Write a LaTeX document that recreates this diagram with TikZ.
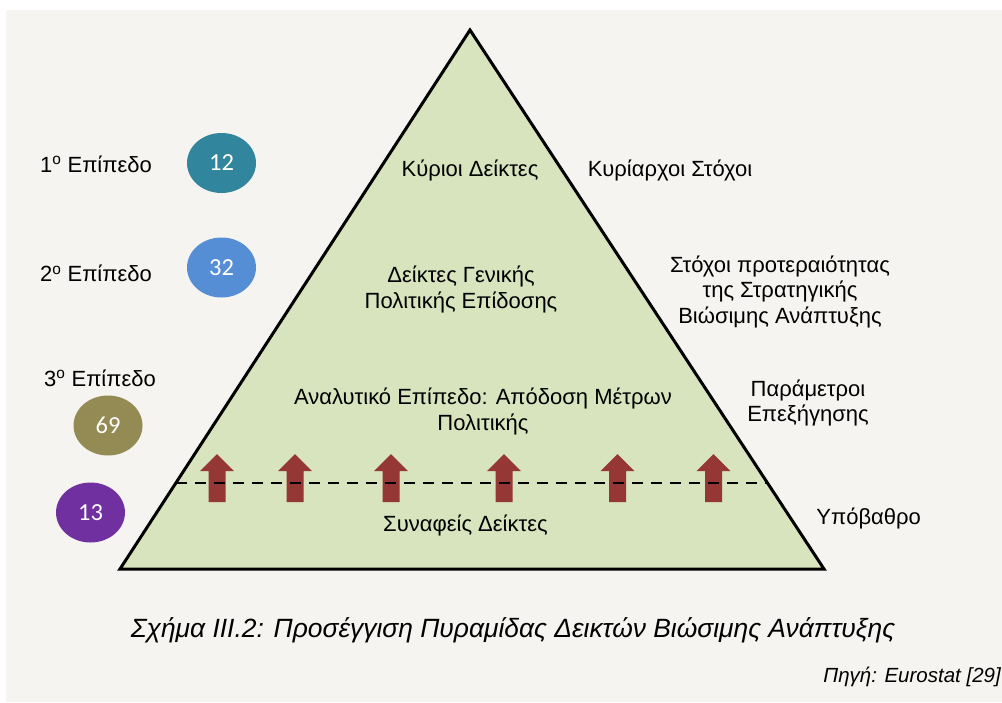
\documentclass[tikz,border=0pt]{standalone}
\usepackage{fontspec}
\setmainfont{Liberation Sans}
\newfontfamily\numfont{Carlito}
\usepackage{xcolor}
\usetikzlibrary{positioning,calc,shapes.geometric}
\definecolor{bgcol}{RGB}{245,244,240}
\definecolor{pyrgreen}{HTML}{D7E4BD}
\definecolor{arrowred}{HTML}{953735}
\definecolor{lvlone}{HTML}{31859C}
\definecolor{lvltwo}{HTML}{558ED5}
\definecolor{lvlthree}{HTML}{948A54}
\definecolor{lvlbase}{HTML}{7030A0}

\begin{document}
\begin{tikzpicture}[
    x=1pt, y=-1pt,
    lbl/.style={font=\fontsize{22}{25.5}\selectfont, align=center, inner sep=0pt, anchor=base},
    num/.style={ellipse, minimum width=69pt, minimum height=60pt, inner sep=0pt, text=white, font=\numfont\fontsize{24.5}{26}\selectfont},
    uparrow/.style={fill=arrowred}
]
    \useasboundingbox (0,0) rectangle (1002,702);
    \fill[white] (0,0) rectangle (1002,702);
    \fill[bgcol] (6,10) rectangle (1002,702);

    \coordinate (apex) at (470,30);
    \coordinate (bl) at (120,569);
    \coordinate (br) at (824,569);
    \filldraw[fill=pyrgreen, line width=3pt] (apex) -- (bl) -- (br) -- cycle;

    \foreach \ax in {217,295,391,504,617.5,713.5}
        \fill[uparrow] ({\ax-8.5},502) -- ({\ax-8.5},471) -- ({\ax-17},471) -- (\ax,454)
            -- ({\ax+17},471) -- ({\ax+8.5},471) -- ({\ax+8.5},502) -- cycle;

    \coordinate (dl) at ($(apex)!0.8404!(bl)$);
    \coordinate (dr) at ($(apex)!0.8404!(br)$);
    \draw[line width=2pt, dash pattern=on 11pt off 8pt] (dl) -- (dr);

    \node[lbl] (main) at (470,176.7) {Κύριοι Δείκτες};
    \node[lbl] (general) at (461,308.3) {Δείκτες Γενικής\\Πολιτικής Επίδοσης};
    \node[lbl] (analytic) at (483,430) {Αναλυτικό Επίπεδο: Απόδοση Μέτρων\\Πολιτικής};
    \node[lbl] (context) at (465.5,531.7) {Συναφείς Δείκτες};

    \node[lbl] (goals) at (670,176.7) {Κυρίαρχοι Στόχοι};
    \node[lbl] (priority) at (780,323.3) {Στόχοι προτεραιότητας\\της Στρατηγικής\\Βιώσιμης Ανάπτυξης};
    \node[lbl] (params) at (808,421.7) {Παράμετροι\\Επεξήγησης};
    \node[lbl] (background) at (868.7,524.3) {Υπόβαθρο};

    \node[lbl] (lone) at (96,172) {1\textsuperscript{ο} Επίπεδο};
    \node[lbl] (ltwo) at (96,281.7) {2\textsuperscript{ο} Επίπεδο};
    \node[lbl] (lthree) at (100,386) {3\textsuperscript{ο} Επίπεδο};

    \node[num, fill=lvlone] (n12) at (221.5,163) {12};
    \node[num, fill=lvltwo] (n32) at (221.5,267.5) {32};
    \node[num, fill=lvlthree] (n69) at (108,425.5) {69};
    \node[num, fill=lvlbase] (n13) at (90.5,512.5) {13};

    \node[anchor=base, inner sep=0pt, font=\itshape\fontsize{26.4}{30}\selectfont] (caption) at (513,637)
        {Σχήμα ΙΙΙ.2: Προσέγγιση Πυραμίδας Δεικτών Βιώσιμης Ανάπτυξης};
    \node[anchor=base east, inner sep=0pt, font=\itshape\fontsize{20.5}{24}\selectfont] (source) at (1001,682)
        {Πηγή: Eurostat [29]};
\end{tikzpicture}
\end{document}
